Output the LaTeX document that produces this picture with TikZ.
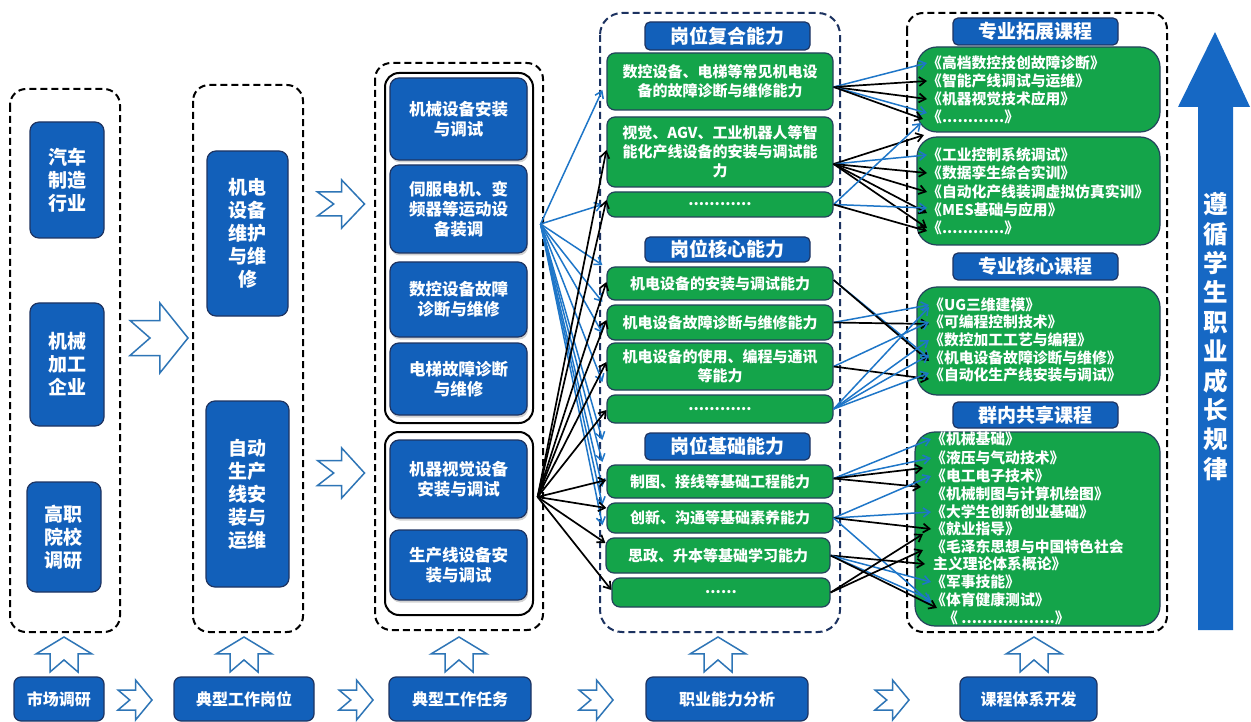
\documentclass[tikz,border=0pt]{standalone}
\usepackage{fontspec}
\setmainfont{Noto Sans CJK SC}
\usetikzlibrary{arrows.meta,shadows}

\definecolor{boxblue}{RGB}{18,96,186}
\definecolor{boxedge}{RGB}{30,52,98}
\definecolor{capgreen}{RGB}{20,164,74}
\definecolor{greenedge}{RGB}{36,66,92}
\definecolor{linkblue}{RGB}{30,118,200}
\definecolor{hollowblue}{RGB}{46,117,182}
\definecolor{navydash}{RGB}{28,50,96}
\definecolor{bigblue}{RGB}{22,104,196}

\tikzset{
  bluebox/.style={draw=boxedge, line width=1.2pt, fill=boxblue, rounded corners=9pt,
    text=white, align=center, inner sep=0pt},
  colbox/.style={bluebox, font=\bfseries\fontsize{19}{23}\selectfont, minimum width=74pt},
  taskbox/.style={bluebox, font=\bfseries\fontsize{16.5}{20}\selectfont, minimum width=137pt,
    drop shadow={shadow xshift=1pt,shadow yshift=-2.5pt,opacity=0.35}},
  headbox/.style={bluebox, rounded corners=5pt, font=\bfseries\fontsize{19}{22}\selectfont,
    minimum width=165pt},
  footbox/.style={bluebox, rounded corners=7pt, font=\bfseries\fontsize{16}{19}\selectfont,
    minimum height=44pt},
  abilitybox/.style={draw=greenedge, line width=1.2pt, fill=capgreen, rounded corners=8pt,
    text=white, align=center, inner sep=0pt, minimum width=226pt,
    font=\bfseries\fontsize{15}{19}\selectfont},
  coursebox/.style={draw=greenedge, line width=1.2pt, fill=capgreen, rounded corners=20pt,
    minimum width=243pt, inner sep=0pt},
  course/.style={anchor=west, inner sep=0pt, text=white, font=\bfseries\fontsize{14.8}{17}\selectfont},
  frame/.style={draw=black, line width=2pt, dash pattern=on 7pt off 4pt, rounded corners=16pt},
  navyframe/.style={draw=navydash, line width=2pt, dash pattern=on 7pt off 4pt, rounded corners=22pt},
  innerframe/.style={draw=black, line width=2pt, rounded corners=14pt},
  blink/.style={draw=linkblue, line width=1.5pt, -{Straight Barb[length=6.5pt,width=9pt]}},
  klink/.style={draw=black, line width=1.7pt, -{Straight Barb[length=6.5pt,width=9pt]}},
  hollow/.style={draw=hollowblue, line width=1.5pt, fill=white, line join=miter},
  rarrow/.pic={\draw[hollow] (-1,-0.5) -- (0.03,-0.5) -- (0.03,-1) -- (1,0) -- (0.03,1)
      -- (0.03,0.5) -- (-1,0.5) -- (-0.31,0) -- cycle;},
  uarrow/.pic={\draw[hollow] (-0.5,1) -- (-0.5,-0.03) -- (-1,-0.03) -- (0,-1) -- (1,-0.03)
      -- (0.5,-0.03) -- (0.5,1) -- (0,0.31) -- cycle;}
}

\begin{document}
\begin{tikzpicture}[x=1pt,y=-1pt]
\useasboundingbox (0,0) rectangle (1251,722);
\fill[white] (0,0) rectangle (1251,722);

% ---------- frames ----------
\draw[frame] (10,89) rectangle (120,632);
\draw[frame] (193,85) rectangle (303,632);
\draw[frame] (375,63) rectangle (543,630);
\draw[innerframe] (385,73) rectangle (533,423);
\draw[innerframe] (385,432) rectangle (533,615);
\draw[navyframe] (600,13) rectangle (840,632);
\draw[frame] (907,13) rectangle (1167,632);

% ---------- sources of demand ----------
\node[colbox, minimum height=116pt] (n11) at (67,180) {汽车\\制造\\行业};
\node[colbox, minimum height=123pt] (n12) at (67,364.5) {机械\\加工\\企业};
\node[colbox, minimum height=110pt] (n13) at (64,537) {高职\\院校\\调研};

% ---------- typical positions ----------
\node[colbox, minimum width=81pt, minimum height=165pt] (n21) at (247.5,233.5) {机电\\设备\\维护\\与维\\修};
\node[colbox, minimum width=83pt, minimum height=186pt] (n22) at (247.5,494) {自动\\生产\\线安\\装与\\运维};

% ---------- typical tasks ----------
\node[taskbox, minimum height=82pt] (t1) at (458.5,119) {机械设备安装\\与调试};
\node[taskbox, minimum height=88pt] (t2) at (458.5,209) {伺服电机、变\\频器等运动设\\备装调};
\node[taskbox, minimum height=75pt] (t3) at (458.5,299.5) {数控设备故障\\诊断与维修};
\node[taskbox, minimum height=72pt] (t4) at (458.5,379) {电梯故障诊断\\与维修};
\node[taskbox, minimum height=78pt] (t5) at (458.5,479) {机器视觉设备\\安装与调试};
\node[taskbox, minimum height=70pt] (t6) at (458.5,565) {生产线设备安\\装与调试};

% ---------- abilities ----------
\node[headbox, minimum height=28pt] (h1) at (727.5,36) {岗位复合能力};
\node[abilitybox, minimum height=57pt] (g1) at (720,81.5) {数控设备、电梯等常见机电设\\备的故障诊断与维修能力};
\node[abilitybox, minimum height=70pt] (g2) at (720,152) {视觉、AGV、工业机器人等智\\能化产线设备的安装与调试能\\力};
\node[abilitybox, minimum height=25pt] (g3) at (720,204.5) {............};
\node[headbox, minimum height=25pt] (h2) at (727.5,249.5) {岗位核心能力};
\node[abilitybox, minimum height=33pt] (g4) at (720,283.5) {机电设备的安装与调试能力};
\node[abilitybox, minimum height=35pt] (g5) at (720,322.5) {机电设备故障诊断与维修能力};
\node[abilitybox, minimum height=47pt] (g6) at (720,366.5) {机电设备的使用、编程与通讯\\等能力};
\node[abilitybox, minimum height=28pt] (g7) at (720,409) {............};
\node[headbox, minimum height=27pt] (h3) at (727.5,446.5) {岗位基础能力};
\node[abilitybox, minimum height=33pt] (g8) at (720,481.5) {制图、接线等基础工程能力};
\node[abilitybox, minimum height=30pt] (g9) at (720,518) {创新、沟通等基础素养能力};
\node[abilitybox, minimum height=35pt, minimum width=224pt] (g10) at (718,555.5) {思政、升本等基础学习能力};
\node[abilitybox, minimum height=29pt, minimum width=218pt] (g11) at (721,592.5) {......};

% ---------- courses ----------
\node[headbox, minimum height=27pt] (p1) at (1035.5,31.5) {专业拓展课程};
\node[coursebox, minimum height=85pt] (ca) at (1038.5,89.5) {};
\node[coursebox, minimum height=108pt] (cb) at (1038.5,191) {};
\node[headbox, minimum height=27pt] (p2) at (1035.5,266.5) {专业核心课程};
\node[coursebox, minimum height=108pt] (cc) at (1038.5,341) {};
\node[headbox, minimum height=26pt] (p3) at (1035.5,415) {群内共享课程};
\node[coursebox, minimum height=194pt, minimum width=245pt] (cd) at (1037.5,529) {};

\node[course] (a1) at (927,63) {《高档数控技创故障诊断》};
\node[course] (a2) at (927,81) {《智能产线调试与运维》};
\node[course] (a3) at (927,99) {《机器视觉技术应用》};
\node[course] (a4) at (927,117) {《............》};
\node[course] (b1) at (927,155) {《工业控制系统调试》};
\node[course] (b2) at (927,173) {《数据孪生综合实训》};
\node[course] (b3) at (927,192) {《自动化产线装调虚拟仿真实训》};
\node[course] (b4) at (927,210) {《MES基础与应用》};
\node[course] (b5) at (927,228) {《............》};
\node[course] (c1) at (929,305) {《UG三维建模》};
\node[course] (c2) at (929,322) {《可编程控制技术》};
\node[course] (c3) at (929,340) {《数控加工工艺与编程》};
\node[course] (c4) at (929,358) {《机电设备故障诊断与维修》};
\node[course] (c5) at (929,375) {《自动化生产线安装与调试》};
\node[course] (d1) at (931,439) {《机械基础》};
\node[course] (d2) at (931,458) {《液压与气动技术》};
\node[course] (d3) at (931,476) {《电工电子技术》};
\node[course] (d4) at (931,494) {《机械制图与计算机绘图》};
\node[course] (d5) at (931,512) {《大学生创新创业基础》};
\node[course] (d6) at (931,529) {《就业指导》};
\node[course] (d7) at (931,547) {《毛泽东思想与中国特色社会};
\node[course] (d8) at (933,564) {主义理论体系概论》};
\node[course] (d9) at (931,582) {《军事技能》};
\node[course] (d10) at (931,600) {《体育健康测试》};
\node[course] (d11) at (943,618) {《 ..................》};

% ---------- growth arrow ----------
\fill[bigblue] (1215,32) -- (1250,107) -- (1233,107) -- (1233,630) -- (1198,630)
  -- (1198,107) -- (1178,107) -- cycle;
\node[text=white, align=center, inner sep=0pt, font=\bfseries\fontsize{24.5}{29.4}\selectfont]
  (vt) at (1215.5,336.5) {遵\\循\\学\\生\\职\\业\\成\\长\\规\\律};

% ---------- process flow ----------
\node[footbox, minimum width=90pt] (s1) at (59,699) {市场调研};
\node[footbox, minimum width=140pt] (s2) at (244,699) {典型工作岗位};
\node[footbox, minimum width=142pt] (s3) at (460,699) {典型工作任务};
\node[footbox, minimum width=162pt] (s4) at (727,699) {职业能力分析};
\node[footbox, minimum width=137pt] (s5) at (1028.5,699) {课程体系开发};

\pic[xscale=17,yscale=20] at (135,700) {rarrow};
\pic[xscale=17,yscale=20] at (356,700) {rarrow};
\pic[xscale=17,yscale=20] at (596,700) {rarrow};
\pic[xscale=17,yscale=20] at (892,700) {rarrow};

\pic[xscale=28,yscale=17.5] at (64,654.5) {uarrow};
\pic[xscale=28,yscale=17.5] at (244,654.5) {uarrow};
\pic[xscale=28,yscale=17.5] at (459,654.5) {uarrow};
\pic[xscale=28,yscale=17.5] at (718,654.5) {uarrow};
\pic[xscale=28,yscale=17.5] at (1034,654.5) {uarrow};

\pic[xscale=29,yscale=35] at (159,338) {rarrow};
\pic[xscale=23.5,yscale=24] at (341,204) {rarrow};
\pic[xscale=23.5,yscale=25] at (341,473) {rarrow};

% ---------- tasks -> abilities ----------
\coordinate (bsrc) at ([xshift=13pt,yshift=-15pt]t2.east);
\coordinate (ksrc) at ([xshift=10pt,yshift=-18pt]t5.east);

\draw[blink] (bsrc) -- ([xshift=-4pt,yshift=-8.5pt]g1.west);
\draw[blink] (bsrc) -- ([xshift=-4pt]g3.west);
\draw[blink] (bsrc) -- ([xshift=-4pt,yshift=18.5pt]g4.west);
\draw[blink] (bsrc) -- ([xshift=-4pt,yshift=20.5pt]g5.west);
\draw[blink] (bsrc) -- ([xshift=-4pt,yshift=-10.5pt]g5.west);
\draw[blink] (bsrc) -- ([xshift=-4pt,yshift=-15.5pt]g6.west);
\draw[blink] (bsrc) -- ([xshift=-4pt,yshift=-31pt]g7.west);
\draw[blink] (bsrc) -- ([xshift=-4pt,yshift=19.5pt]g8.west);
\draw[blink] (bsrc) -- ([xshift=-4pt,yshift=-5.5pt]g8.west);
\draw[blink] (bsrc) -- ([xshift=-4pt,yshift=13pt]g9.west);
\draw[blink] (bsrc) -- ([xshift=-4pt,yshift=-7pt]g9.west);

\draw[klink] (ksrc) -- ([yshift=2pt]g2.west);
\draw[klink] (ksrc) -- ([yshift=4.5pt]g3.west);
\draw[klink] (ksrc) -- ([yshift=1.5pt]g4.west);
\draw[klink] (ksrc) -- ([yshift=2.5pt]g5.west);
\draw[klink] (ksrc) -- ([yshift=4.5pt]g6.west);
\draw[klink] (ksrc) -- ([yshift=-1pt]g7.west);
\draw[klink] (ksrc) -- ([yshift=1.5pt]g8.west);
\draw[klink] (ksrc) -- ([yshift=10pt]g9.west);
\draw[klink] (ksrc) -- ([yshift=12.5pt]g10.west);
\draw[klink] (ksrc) -- ([yshift=2.5pt]g11.west);

% ---------- abilities -> courses ----------
\draw[blink] ([yshift=-5.5pt]g1.east) -- (a1.west);
\draw[klink] ([yshift=-5.5pt]g1.east) -- (a2.west);
\draw[klink] ([yshift=-5.5pt]g1.east) -- (a3.west);
\draw[blink] ([yshift=-5.5pt]g1.east) -- ([yshift=4pt]a4.west);
\draw[klink] ([yshift=-5.5pt]g1.east) -- ([xshift=-4pt,yshift=-2pt]a4.west);

\draw[klink] ([yshift=-12pt]g2.east) -- ([xshift=-3pt,yshift=-18pt]a4.west);
\draw[blink] ([yshift=-12pt]g2.east) -- (b1.west);
\draw[klink] ([yshift=-12pt]g2.east) -- (b2.west);
\draw[klink] ([yshift=-12pt]g2.east) -- (b3.west);
\draw[klink] ([yshift=-12pt]g2.east) -- ([yshift=-3pt]b4.west);
\draw[klink] ([yshift=-12pt]g2.east) -- (b5.west);

\draw[blink] (g3.east) -- ([xshift=-6pt,yshift=-6pt]a4.west);
\draw[blink] (g3.east) -- ([yshift=2pt]b4.west);
\draw[klink] (g3.east) -- ([yshift=-3pt]b5.west);

\draw[blink] ([yshift=3.5pt]g4.east) -- (c4.west);
\draw[klink] ([yshift=3.5pt]g4.east) -- ([yshift=-3pt]c4.west);
\draw[blink] (g5.east) -- (c1.west);
\draw[klink] (g5.east) -- ([yshift=-2pt]c2.west);
\draw[blink] (g6.east) -- (c2.west);
\draw[klink] (g6.east) -- ([yshift=-4pt]c5.west);
\draw[blink] (g7.east) -- ([yshift=-2pt]c1.west);
\draw[blink] (g7.east) -- (c3.west);
\draw[blink] (g7.east) -- ([yshift=3pt]c4.west);
\draw[blink] (g7.east) -- ([yshift=2pt]c5.west);

\draw[blink] ([yshift=3pt]g8.east) -- (d1.west);
\draw[blink] ([yshift=3pt]g8.east) -- (d2.west);
\draw[klink] ([yshift=3pt]g8.east) -- ([xshift=-8pt,yshift=8pt]d3.west);
\draw[klink] ([yshift=3pt]g8.east) -- ([xshift=-10pt,yshift=7pt]d4.west);
\draw[blink] (g9.east) -- (d3.west);
\draw[blink] (g9.east) -- (d5.west);
\draw[klink] (g9.east) -- (d6.west);
\draw[blink] (g9.east) -- ([yshift=-3pt]d10.west);
\draw[klink] (g10.east) -- ([xshift=-8pt]d8.west);
\draw[blink] (g10.east) -- (d9.west);
\draw[blink] (g10.east) -- (d10.west);
\draw[klink] (g10.east) -- ([xshift=-6pt,yshift=10pt]d11.west);
\draw[klink] (g11.east) -- ([xshift=-8pt,yshift=-5pt]d6.west);
\draw[klink] (g11.east) -- ([xshift=-8pt,yshift=-3pt]d7.west);
\end{tikzpicture}
\end{document}
